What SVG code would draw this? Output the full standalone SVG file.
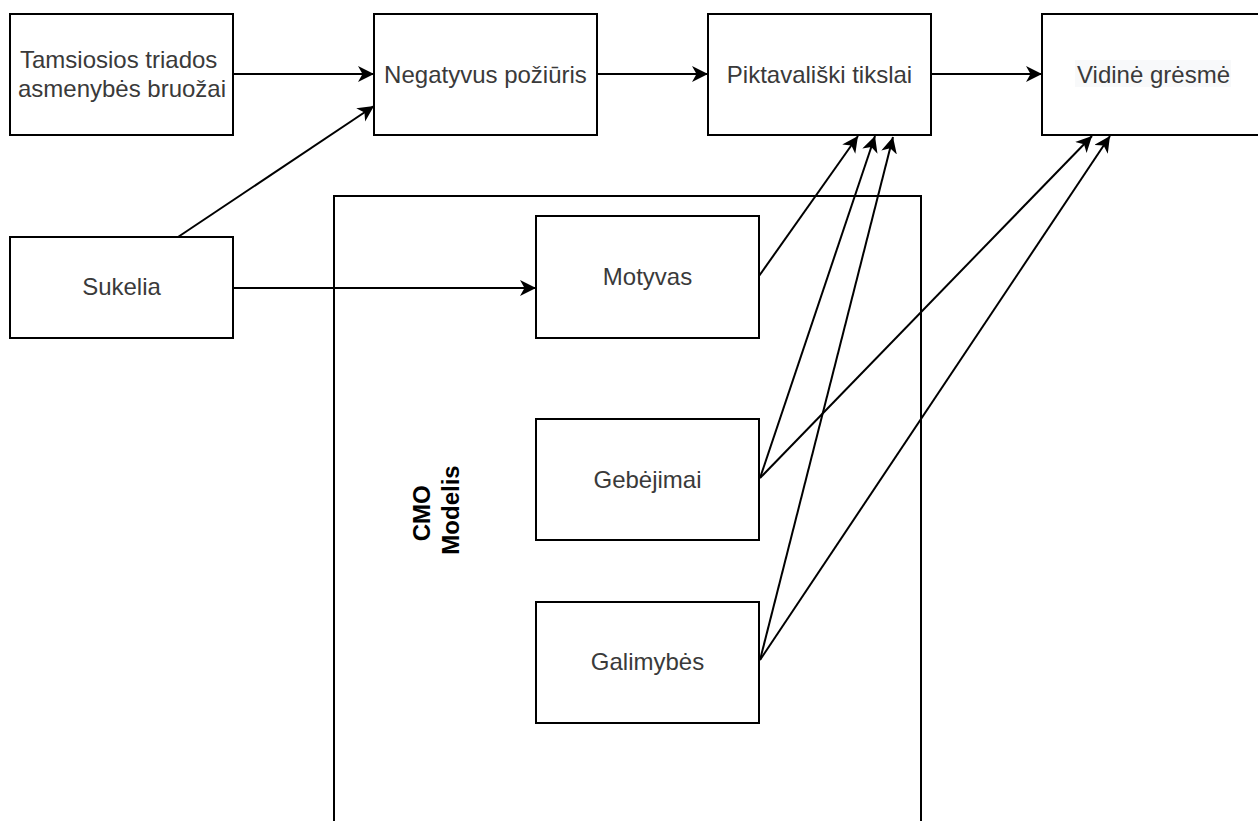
<svg xmlns="http://www.w3.org/2000/svg" width="1258" height="821" viewBox="0 0 1258 821">
  <style>
    .box { fill: #ffffff; stroke: #000000; stroke-width: 2; }
    .lbl { font-family: "Liberation Sans", Arial, sans-serif; font-size: 24px; fill: #3a3a3a; text-anchor: middle; }
    .title { font-family: "Liberation Sans", Arial, sans-serif; font-size: 24px; font-weight: bold; fill: #000000; text-anchor: middle; }
    .edge { fill: none; stroke: #000000; stroke-width: 2; }
  </style>
  <defs>
    <marker id="arrow" markerUnits="userSpaceOnUse" markerWidth="20" markerHeight="20" refX="16" refY="8" orient="auto">
      <path d="M0,0 L16,8 L0,16 L4.5,8 Z" fill="#000000"/>
    </marker>
  </defs>

  <rect width="1258" height="821" fill="#ffffff"/>

  <!-- container for the CMO model -->
  <g id="cmo-model">
    <rect class="box" x="334" y="196" width="587" height="640"/>
    <text class="title" transform="translate(436,510) rotate(-90)">
      <tspan x="0" y="-6">CMO</tspan>
      <tspan x="0" y="23">Modelis</tspan>
    </text>
  </g>

  <g id="tamsiosios-triados">
    <rect class="box" x="10" y="14" width="223" height="121"/>
    <text class="lbl">
      <tspan x="122" y="68">Tamsiosios triados</tspan>
      <tspan x="122" y="97">asmenybės bruožai</tspan>
    </text>
  </g>

  <g id="negatyvus-poziuris">
    <rect class="box" x="374" y="14" width="223" height="121"/>
    <text class="lbl" x="485.5" y="82.5">Negatyvus požiūris</text>
  </g>

  <g id="piktavaliski-tikslai">
    <rect class="box" x="708" y="14" width="223" height="121"/>
    <text class="lbl" x="819.5" y="82.5">Piktavališki tikslai</text>
  </g>

  <g id="vidine-gresme">
    <rect class="box" x="1042" y="14" width="223" height="121"/>
    <rect x="1075" y="60" width="156" height="27" fill="#f8f9fa"/>
    <text class="lbl" x="1153.5" y="82.5">Vidinė grėsmė</text>
  </g>

  <g id="sukelia">
    <rect class="box" x="10" y="237" width="223" height="101"/>
    <text class="lbl" x="121.5" y="295">Sukelia</text>
  </g>

  <g id="motyvas">
    <rect class="box" x="536" y="216" width="223" height="122"/>
    <text class="lbl" x="647.5" y="285">Motyvas</text>
  </g>

  <g id="gebejimai">
    <rect class="box" x="536" y="419" width="223" height="121"/>
    <text class="lbl" x="647.5" y="487.5">Gebėjimai</text>
  </g>

  <g id="galimybes">
    <rect class="box" x="536" y="602" width="223" height="121"/>
    <text class="lbl" x="647.5" y="670">Galimybės</text>
  </g>

  <g id="connectors">
    <line class="edge" x1="233" y1="74" x2="374" y2="74" marker-end="url(#arrow)"/>
    <line class="edge" x1="178" y1="237" x2="374" y2="106" marker-end="url(#arrow)"/>
    <line class="edge" x1="597" y1="74" x2="708" y2="74" marker-end="url(#arrow)"/>
    <line class="edge" x1="931" y1="74" x2="1042" y2="74" marker-end="url(#arrow)"/>
    <line class="edge" x1="233" y1="288" x2="536" y2="288" marker-end="url(#arrow)"/>
    <line class="edge" x1="759" y1="276" x2="858" y2="136" marker-end="url(#arrow)"/>
    <line class="edge" x1="760" y1="478" x2="875" y2="136" marker-end="url(#arrow)"/>
    <line class="edge" x1="760" y1="660" x2="893" y2="137" marker-end="url(#arrow)"/>
    <line class="edge" x1="760" y1="478" x2="1092" y2="136" marker-end="url(#arrow)"/>
    <line class="edge" x1="760" y1="660" x2="1110" y2="136" marker-end="url(#arrow)"/>
  </g>
</svg>
